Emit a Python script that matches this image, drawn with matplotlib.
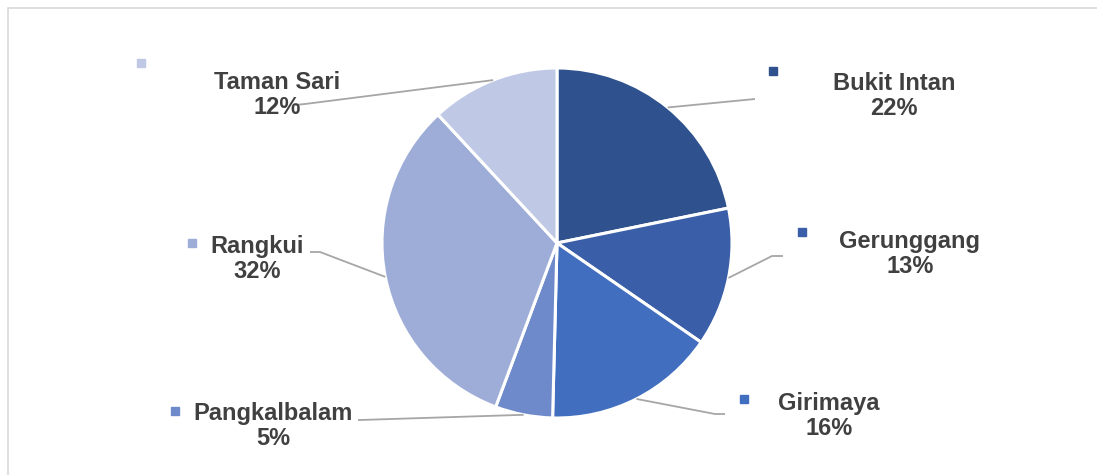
import matplotlib.pyplot as plt
import numpy as np
from matplotlib.patches import Rectangle

# Data (share per kecamatan)
districts = ["Bukit Intan", "Gerunggang", "Girimaya", "Pangkalbalam", "Rangkui", "Taman Sari"]
shares = [21.8, 12.8, 15.8, 5.3, 32.4, 11.9]
colors = ["#2F528F", "#3A5FA8", "#416EBE", "#6E8ACB", "#9EADD8", "#BFC9E5"]

W, H = 1097, 475
CX, CY, R = 557, H - 243, 175

# Layout in pixels from top-left: label centre, legend square, leader elbow, leader end
label_pos = [(894, 96), (910, 254), (829, 416), (273, 426), (257, 259), (277, 95)]
marker_pos = [(773, 71), (802, 232), (744, 399), (175, 411), (192, 243), (141, 63)]
elbow_pos = [(755, 99), (772, 256), (715, 414), (360, 420), (320, 252), (305, 104)]
end_pos = [(755, 99), (783, 256), (725, 414), (358, 420), (310, 252), (295, 105)]

fig = plt.figure(figsize=(W / 100, H / 100), dpi=100)
ax = fig.add_axes([0, 0, 1, 1])

wedges, _ = ax.pie(shares, colors=colors, startangle=90, counterclock=False,
                   center=(CX, CY), radius=R,
                   wedgeprops=dict(edgecolor="white", linewidth=2.2))

ax.set_xlim(0, W)
ax.set_ylim(0, H)
ax.set_aspect("equal")
ax.axis("off")

# Chart frame (only top and left visible)
ax.add_patch(Rectangle((8, -20), W + 50, H - 8 + 20, fill=False,
                       edgecolor="#D9D9D9", linewidth=1.2))

total = sum(shares)
for i, w in enumerate(wedges):
    mid = np.deg2rad((w.theta1 + w.theta2) / 2)
    sx, sy = CX + R * np.cos(mid), CY + R * np.sin(mid)
    ex, ey = elbow_pos[i]
    fx, fy = end_pos[i]
    ax.plot([sx, ex, fx], [sy, H - ey, H - fy], color="#A6A6A6", lw=1.3,
            solid_capstyle="butt", zorder=1)

    pct = round(shares[i] / total * 100)
    lx, ly = label_pos[i]
    ax.text(lx, H - ly, f"{districts[i]}\n{pct}%", ha="center", va="center",
            fontsize=17, fontweight="bold", color="#404040",
            family="Liberation Sans", linespacing=1.15)

    mx, my = marker_pos[i]
    ax.plot(mx, H - my, marker="s", markersize=5.8, color=colors[i], linestyle="none")

fig.savefig("out.png", dpi=100)
